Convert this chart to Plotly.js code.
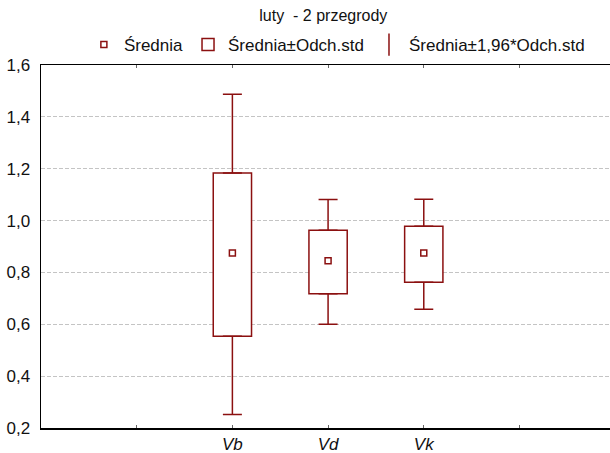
<!DOCTYPE html>
<html><head><meta charset="utf-8">
<script src="https://cdn.plot.ly/plotly-3.0.1.min.js"></script>
<style>html,body{margin:0;padding:0;background:#fff}</style>
</head><body>
<div id="chart" style="width:610px;height:453px"></div>
<script>
// data
const categories = ['Vb', 'Vd', 'Vk'];
const means     = [0.875, 0.845, 0.875];
const boxLow    = [0.554, 0.718, 0.762];
const boxHigh   = [1.183, 0.963, 0.978];
const whiskLow  = [0.252, 0.600, 0.658];
const whiskHigh = [1.487, 1.081, 1.082];
const yTicks = [0.2, 0.4, 0.6, 0.8, 1.0, 1.2, 1.4, 1.6];

const red = '#8b1010';
const xpos = categories.map((c, i) => i + 2);
const fam = 'Liberation Sans, Arial, sans-serif';
const font = {family: fam, size: 17, color: '#111'};

const traces = [
  {
    type: 'scatter', mode: 'markers', name: 'Średnia',
    x: xpos, y: means,
    marker: {symbol: 'square-open', size: 6, color: red, line: {width: 1.5, color: red}},
    hoverinfo: 'skip'
  },
  {
    type: 'bar', name: 'Średnia±Odch.std',
    x: xpos, base: boxLow, y: boxHigh.map((h, i) => h - boxLow[i]),
    width: 0.4,
    marker: {color: '#ffffff', line: {color: red, width: 1.5}},
    hoverinfo: 'skip'
  },
  {
    type: 'scatter', mode: 'markers', name: 'upper',
    x: xpos, y: boxHigh,
    marker: {size: 1, color: 'rgba(0,0,0,0)'},
    error_y: {type: 'data', symmetric: false, array: whiskHigh.map((w, i) => w - boxHigh[i]),
              arrayminus: boxHigh.map(() => 0), color: red, thickness: 1.5, width: 9.5},
    showlegend: false, hoverinfo: 'skip'
  },
  {
    type: 'scatter', mode: 'markers', name: 'lower',
    x: xpos, y: boxLow,
    marker: {size: 1, color: 'rgba(0,0,0,0)'},
    error_y: {type: 'data', symmetric: false, array: boxLow.map(() => 0),
              arrayminus: boxLow.map((b, i) => b - whiskLow[i]), color: red, thickness: 1.5, width: 9.5},
    showlegend: false, hoverinfo: 'skip'
  },
  {
    type: 'scatter', mode: 'markers', name: 'Średnia±1,96*Odch.std',
    x: [null], y: [null],
    marker: {symbol: 'line-ns-open', size: 16, color: red, line: {color: red, width: 1.5}},
    hoverinfo: 'skip'
  }
];

const layout = {
  width: 610, height: 453,
  margin: {l: 41, r: 0, t: 65, b: 25},
  paper_bgcolor: '#fff', plot_bgcolor: '#fff',
  separators: ', ',
  font: font,
  showlegend: true,
  title: {text: 'luty  - 2 przegrody', x: 0.53, xanchor: 'center', y: 0.967, yanchor: 'middle',
          yref: 'container', font: {family: fam, size: 16, color: '#111'}},
  legend: {orientation: 'h', x: 0.52, xanchor: 'center', y: 1.055, yanchor: 'middle',
           font: {family: fam, size: 17, color: '#111'},
           itemwidth: 30, traceorder: 'normal', bgcolor: 'rgba(0,0,0,0)'},
  bargap: 0,
  xaxis: {
    range: [0, 5.946], fixedrange: true,
    tickmode: 'array', tickvals: [1, 2, 3, 4, 5],
    ticktext: ['', '<i>' + categories[0] + '</i>', '<i>' + categories[1] + '</i>', '<i>' + categories[2] + '</i>', ''],
    ticks: 'inside', ticklen: 3, tickcolor: '#666', tickwidth: 1,
    showgrid: false, zeroline: false,
    showline: true, linecolor: '#000', linewidth: 1.5, mirror: 'ticks',
    tickfont: {family: fam, size: 17, color: '#111'}
  },
  yaxis: {
    range: [0.2, 1.6], fixedrange: true,
    tickmode: 'array', tickvals: yTicks, tickformat: '.1f',
    ticks: '', showgrid: true, gridcolor: '#c4c4c4', griddash: '4px,2px', gridwidth: 1,
    zeroline: false, showline: true, linecolor: '#000', linewidth: 1.5,
    ticklabelstandoff: 6,
    tickfont: {family: fam, size: 17, color: '#111'}
  }
};

Plotly.newPlot('chart', traces, layout, {displayModeBar: false, staticPlot: true});
</script>
</body></html>
